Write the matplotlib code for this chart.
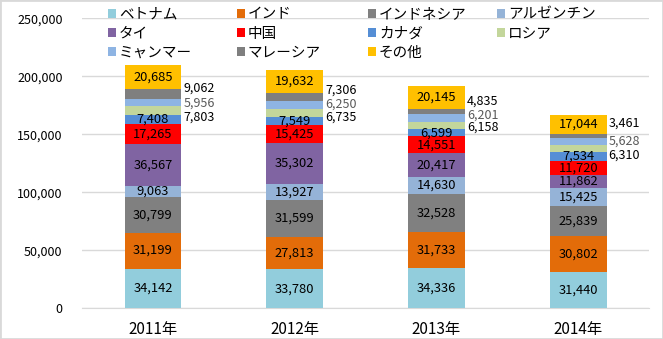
import numpy as np
import matplotlib.pyplot as plt
from matplotlib.patches import Rectangle

plt.rcParams['font.family'] = ['Noto Sans CJK JP', 'DejaVu Sans']

years = ["2011年", "2012年", "2013年", "2014年"]
countries = ["ベトナム", "インド", "インドネシア", "アルゼンチン", "タイ", "中国",
             "カナダ", "ロシア", "ミャンマー", "マレーシア", "その他"]

vietnam = [34142, 33780, 34336, 31440]
india = [31199, 27813, 31733, 30802]
indonesia = [30799, 31599, 32528, 25839]
argentina = [9063, 13927, 14630, 15425]
thailand = [36567, 35302, 20417, 11862]
china = [17265, 15425, 14551, 11720]
canada = [7408, 7549, 6599, 7534]
russia = [7803, 6735, 6158, 6310]
myanmar = [5956, 6250, 6201, 5628]
malaysia = [9062, 7306, 4835, 3461]
others = [20685, 19632, 20145, 17044]

series = [vietnam, india, indonesia, argentina, thailand, china,
          canada, russia, myanmar, malaysia, others]
colors = ["#92CDDC", "#E36C09", "#808080", "#95B3D7", "#8064A2", "#FF0000",
          "#558ED5", "#C3D69B", "#8EB4E3", "#7F7F7F", "#FFC000"]

# labels drawn beside the bar for the thin segments (ロシア, ミャンマー, マレーシア)
side = {7: "black", 8: "#595959", 9: "black"}
# vertical nudges in points for the side labels, per year
nudge = {7: [-4.5, -3.2, -1.5, -5], 8: [0, 1.0, 2, 0], 9: [4, 5.0, 7.5, 9.5]}

fig = plt.figure(figsize=(6.63, 3.39), dpi=100)
ax = fig.add_axes([0.1237, 0.0906, 0.8553, 0.855])

x = np.arange(len(years))
w = 0.4
bottom = np.zeros(len(years))
handles = []
for i, (vals, c) in enumerate(zip(series, colors)):
    vals = np.array(vals)
    bars = ax.bar(x, vals, w, bottom=bottom, color=c, label=countries[i], zorder=3)
    handles.append(bars)
    for j in range(len(years)):
        yc = bottom[j] + vals[j] / 2
        txt = f"{vals[j]:,}"
        if i in side:
            ax.annotate(txt, (x[j] + w / 2, yc), xytext=(1.5, nudge[i][j]),
                        textcoords="offset points", ha="left", va="center",
                        fontsize=9, color=side[i], zorder=5)
        else:
            ax.text(x[j], yc, txt, ha="center", va="center", fontsize=9.3,
                    color="black", zorder=5)
    bottom += vals

ax.set_xlim(-0.5, len(years) - 0.5)
ax.set_ylim(0, 250000)
ax.set_yticks(np.arange(0, 250001, 50000))
ax.yaxis.set_major_formatter(plt.FuncFormatter(lambda v, p: f"{int(v):,}"))
ax.set_xticks(x)
ax.set_xticklabels(years)
ax.tick_params(axis="both", length=0)
ax.tick_params(axis="x", pad=9, labelsize=11)
ax.tick_params(axis="y", pad=14, labelsize=9)
ax.grid(axis="y", color="#D9D9D9", linewidth=1, zorder=0)
for s in ["top", "right", "left"]:
    ax.spines[s].set_visible(False)
ax.spines["bottom"].set_color("#D9D9D9")

# legend reads row by row in the original; one legend per column keeps the columns evenly spaced
legend_cols = [[0, 4, 8], [1, 5, 9], [2, 6, 10], [3, 7]]
col_x = [0.163, 0.357, 0.555, 0.750]
for cols, cx in zip(legend_cols, col_x):
    fig.legend([handles[k] for k in cols], [countries[k] for k in cols],
               loc="upper left", bbox_to_anchor=(cx, 0.978), frameon=False,
               fontsize=10.5, handlelength=0.55, handleheight=0.55,
               handletextpad=0.2, labelspacing=0.36, borderpad=0,
               borderaxespad=0)

fig.patches.append(Rectangle((0, 0), 1, 1, transform=fig.transFigure,
                             fill=False, edgecolor="#D9D9D9", linewidth=2))

plt.savefig("out.png", dpi=100)
